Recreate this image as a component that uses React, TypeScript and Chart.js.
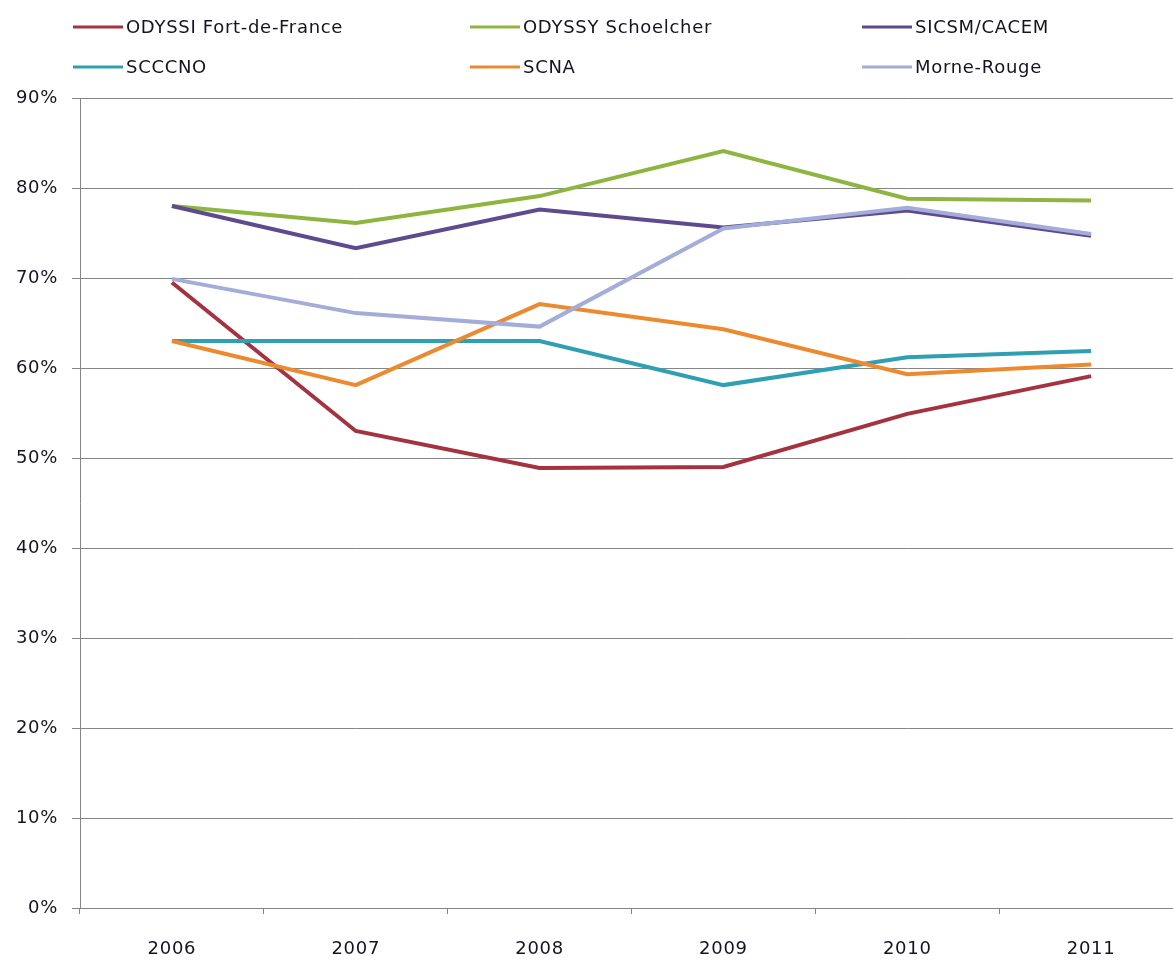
import React, { useEffect, useRef } from "react";
import { Chart, registerables } from "chart.js";

Chart.register(...registerables);

const years = ["2006", "2007", "2008", "2009", "2010", "2011"];
const seriesNames = [
  "ODYSSI Fort-de-France",
  "ODYSSY Schoelcher",
  "SICSM/CACEM",
  "SCCCNO",
  "SCNA",
  "Morne-Rouge",
];
const fortDeFrance = [69.5, 53.0, 48.9, 49.0, 54.9, 59.1];
const schoelcher = [78.0, 76.1, 79.1, 84.1, 78.8, 78.6];
const sicsmCacem = [78.0, 73.3, 77.6, 75.6, 77.5, 74.7];
const scccno = [63.0, 63.0, 63.0, 58.1, 61.2, 61.9];
const scna = [63.0, 58.1, 67.1, 64.3, 59.3, 60.4];
const morneRouge = [69.9, 66.1, 64.6, 75.5, 77.8, 74.9];
const seriesValues = [fortDeFrance, schoelcher, sicsmCacem, scccno, scna, morneRouge];
const seriesColors = ["#A5323F", "#8DB53F", "#5E4A8C", "#2F9FB2", "#EC8A30", "#A4ACDA"];
const yTicks = [0, 10, 20, 30, 40, 50, 60, 70, 80, 90];

const FONT = "'DejaVu Sans', 'Liberation Sans', sans-serif";
const SPACING = "0.7px";

const spacingPlugin = {
  id: "letterSpacing",
  beforeDraw(chart: any) {
    chart.ctx.letterSpacing = SPACING;
  },
};

const legendPlugin = {
  id: "excelLegend",
  afterDraw(chart: any) {
    const ctx = chart.ctx;
    const colX = [73, 470, 862];
    const rowY = [28, 68];
    ctx.save();
    ctx.letterSpacing = SPACING;
    ctx.font = `18px ${FONT}`;
    ctx.textBaseline = "middle";
    ctx.textAlign = "left";
    chart.data.datasets.forEach((ds: any, i: number) => {
      const x = colX[i % 3];
      const y = rowY[Math.floor(i / 3)];
      ctx.strokeStyle = ds.borderColor;
      ctx.lineWidth = 3;
      ctx.beginPath();
      ctx.moveTo(x, y - 1);
      ctx.lineTo(x + 50, y - 1);
      ctx.stroke();
      ctx.fillStyle = "#141424";
      ctx.fillText(ds.label, x + 53, y);
    });
    ctx.restore();
  },
};

export default function App() {
  const ref = useRef<HTMLCanvasElement | null>(null);
  useEffect(() => {
    if (!ref.current) return;
    const chart = new Chart(ref.current, {
      type: "line",
      data: {
        labels: years,
        datasets: seriesNames.map((name, i) => ({
          label: name,
          data: seriesValues[i],
          borderColor: seriesColors[i],
          backgroundColor: seriesColors[i],
          borderWidth: 4,
          pointRadius: 0,
          tension: 0,
          order: seriesNames.length - i,
        })),
      },
      options: {
        animation: false,
        responsive: true,
        maintainAspectRatio: false,
        layout: { padding: { top: 98, left: 0, right: 7, bottom: 0 } },
        plugins: {
          legend: { display: false },
          tooltip: { enabled: false },
        },
        scales: {
          x: {
            offset: true,
            afterFit: (s: any) => {
              s.height = 57;
            },
            grid: {
              offset: true,
              drawOnChartArea: false,
              drawTicks: true,
              tickLength: 6,
              color: "#858585",
            },
            border: { display: true, color: "#858585", width: 1 },
            ticks: {
              color: "#141424",
              padding: 25,
              font: { family: FONT, size: 18 },
            },
          },
          y: {
            min: 0,
            max: 90,
            afterFit: (s: any) => {
              s.width = 80;
            },
            afterBuildTicks: (s: any) => {
              s.ticks = yTicks.map((v) => ({ value: v }));
            },
            grid: {
              color: "#858585",
              lineWidth: 1,
              drawTicks: true,
              tickLength: 8,
            },
            border: { display: true, color: "#858585", width: 1 },
            ticks: {
              color: "#141424",
              padding: 14,
              font: { family: FONT, size: 18 },
              callback: (v: any) => `${v}%`,
            },
          },
        },
      },
      plugins: [spacingPlugin, legendPlugin],
    });
    return () => chart.destroy();
  }, []);

  return (
    <div
      style={{
        position: "fixed",
        left: 0,
        top: 0,
        width: 1173,
        height: 965,
        overflow: "hidden",
        background: "#fff",
      }}
    >
      <div style={{ position: "relative", width: 1190, height: 965 }}>
        <canvas ref={ref} />
      </div>
    </div>
  );
}
